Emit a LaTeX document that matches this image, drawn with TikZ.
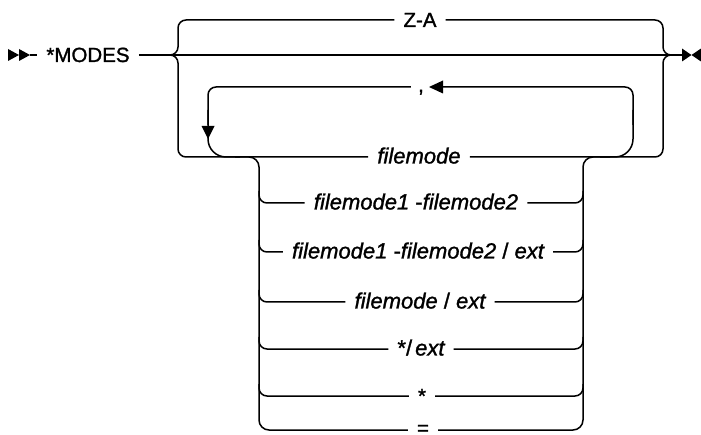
\documentclass[tikz,border=0pt]{standalone}
\usepackage{fontspec}
\setmainfont{Liberation Sans}
\newfontfamily\railfont{Liberation Sans}[FakeBold=1.3]
\begin{document}
\begin{tikzpicture}[x=1pt,y=-1pt,
  rail/.style={line width=1.5pt, rounded corners=8pt},
  lbl/.style={font=\railfont\fontsize{20.5}{24}\selectfont, inner xsep=9pt, inner ysep=1pt, anchor=base},
  var/.style={lbl, font=\railfont\fontsize{22}{24}\selectfont\itshape},
  tip/.style={fill=black}]
\useasboundingbox (0,0) rectangle (701,435);

% key coordinates
\coordinate (st)    at (30,55);
\coordinate (forkL) at (160,55);
\coordinate (brL)   at (178,55);
\coordinate (brR)   at (663,55);
\coordinate (endA)  at (683,55);
\coordinate (TopL)  at (178,20);
\coordinate (TopR)  at (663,20);
\coordinate (BL)    at (178,157);
\coordinate (BR)    at (663,157);
\coordinate (LpTL)  at (208,87);
\coordinate (LpTR)  at (633,87);
\coordinate (ArB)   at (443,87);

% labels
\node[lbl] (modes) at (88,62) {*MODES};
\node[lbl] (za)    at (420,27) {Z-A};
\node[lbl, inner xsep=7pt] (comma) at (421,92) {,};
\node[var] (r1) at (419,163.5) {filemode};
\node[var] (r2) at (416,209.5) {filemode1 \upshape-\itshape filemode2};
\node[var] (r3) at (418,258.5) {filemode1 \upshape-\itshape filemode2 \upshape/ \itshape ext};
\node[var] (r4) at (420,308.5) {filemode \upshape/ \itshape ext};
\node[var] (r5) at (421,355.5) {\upshape*/\hspace{3pt}\itshape ext};
\node[lbl] (r6) at (422,403) {*};
\node[lbl] (r7) at (423,435) {=};

% start and end marks
\fill[tip] (8,49) -- (19,55) -- (8,61) -- cycle;
\fill[tip] (19,49) -- (30,55) -- (19,61) -- cycle;
\fill[tip] (682,48.5) -- (691.5,55) -- (682,61.5) -- cycle;
\fill[tip] (701,48.5) -- (691.5,55) -- (701,61.5) -- cycle;

% main line
\draw[rail] (st) -- (brL -| modes.west);
\draw[rail] (brL -| modes.east) -- (endA);

% upper branch Z-A
\draw[rail] (forkL) -- (brL) -- (TopL) -- (TopL -| za.west);
\draw[rail] (TopR -| za.east) -- (TopR) -- (brR) -- (endA);

% lower branch
\draw[rail] (forkL) -- (brL) -- (BL) -- (BL -| r1.west);
\draw[rail] (BR -| r1.east) -- (BR) -- (brR) -- (endA);

% repeat loop
\draw[rail, rounded corners=18pt] (600,157) -- (633,157) -- (633,110);
\draw[rail] (633,125) -- (LpTR) -- (ArB);
\fill[tip] (429,87) -- (443,80.5) -- (443,93.5) -- cycle;
\draw[rail] (LpTL -| comma.west) -- (LpTL) -- (208,125);
\draw[rail, rounded corners=18pt] (208,110) -- (208,157) -- (240,157);
\fill[tip] (208,139) -- (201.5,126) -- (214.5,126) -- cycle;

% choice group
\coordinate (L2) at (259,203); \coordinate (R2) at (583,203);
\coordinate (L3) at (259,252); \coordinate (R3) at (583,252);
\coordinate (L4) at (259,302); \coordinate (R4) at (583,302);
\coordinate (L5) at (259,349); \coordinate (R5) at (583,349);
\coordinate (L6) at (259,396); \coordinate (R6) at (583,396);
\coordinate (L7) at (259,430); \coordinate (R7) at (583,430);

\draw[rail, rounded corners=10pt] (235,157) -- (259,157) -- (L7) -- (L7 -| r7.west);
\draw[rail, rounded corners=10pt] (R7 -| r7.east) -- (R7) -- (583,157) -- (610,157);

\foreach \i in {2,...,6} {
  \draw[rail] ([yshift=12pt]L\i) -- (L\i) -- (L\i -| r\i.west);
  \draw[rail] (R\i -| r\i.east) -- (R\i) -- ([yshift=12pt]R\i);
}
\end{tikzpicture}
\end{document}
